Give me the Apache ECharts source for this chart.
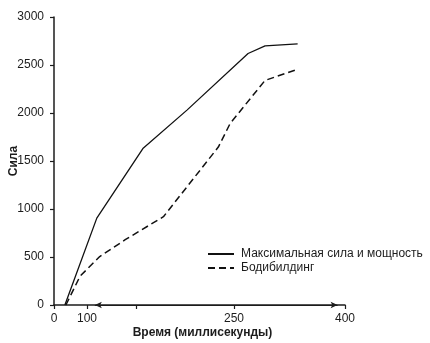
<!DOCTYPE html>
<html>
<head>
<meta charset="utf-8">
<script src="https://cdn.jsdelivr.net/npm/echarts@6/dist/echarts.min.js"></script>
<style>
  html, body { margin: 0; padding: 0; background: #ffffff; }
  #chart { width: 430px; height: 343px; }
</style>
</head>
<body>
<div id="chart"></div>
<script>
// ---- data (time in ms as read against the printed axis, force in units of the y axis) ----
const seriesNames = ['Максимальная сила и мощность', 'Бодибилдинг'];
const strengthTime  = [33, 110, 157, 202, 269, 292, 336];
const strengthForce = [0, 905, 1630, 2030, 2620, 2700, 2720];
const bodyTime  = [36, 79, 113, 139, 178, 234, 246, 292, 336];
const bodyForce = [0, 300, 505, 680, 920, 1645, 1890, 2340, 2455];
const xTickLabels = [0, 100, 250, 400];
const xMinorTicks = [150];
const timeArrow = [108, 390];
const yTicks = [0, 500, 1000, 1500, 2000, 2500, 3000];

// ---- the printed time axis is not uniform: piecewise-linear scale between its labelled ticks ----
function makeAxisScale() {
  const ms = [0, 100, 250, 400];
  const span = [0, 33, 180, 291];
  function fwd(v) {
    for (let i = 1; i < ms.length; i++) {
      if (v <= ms[i] || i === ms.length - 1) {
        return span[i - 1] + (v - ms[i - 1]) / (ms[i] - ms[i - 1]) * (span[i] - span[i - 1]);
      }
    }
  }
  function inv(u) {
    for (let i = 1; i < span.length; i++) {
      if (u <= span[i] + 1e-6 || i === span.length - 1) {
        return ms[i - 1] + (u - span[i - 1]) / (span[i] - span[i - 1]) * (ms[i] - ms[i - 1]);
      }
    }
  }
  return { fwd, inv, max: span[span.length - 1] };
}
const sc = makeAxisScale();

const FONT = '"Liberation Sans", Arial, "DejaVu Sans", sans-serif';
const INK = '#1c1c1c';

const chart = echarts.init(document.getElementById('chart'), null, { renderer: 'canvas' });
chart.setOption({
  animation: false,
  backgroundColor: '#ffffff',
  textStyle: { fontFamily: FONT, color: INK },
  grid: { left: 54, top: 17, width: 291, height: 288, containLabel: false, outerBoundsMode: 'none' },
  legend: {
    orient: 'vertical',
    left: 207,
    top: 248,
    padding: 0,
    itemWidth: 26,
    itemHeight: 10,
    itemGap: 2,
    itemStyle: { opacity: 0 },
    textStyle: { fontFamily: FONT, fontSize: 12, color: INK, padding: [0, 0, 0, 2] },
    data: seriesNames
  },
  xAxis: {
    type: 'value',
    min: 0,
    max: sc.max,
    name: 'Время (миллисекунды)',
    nameLocation: 'middle',
    nameGap: 22,
    nameMoveOverlap: false,
    nameTextStyle: { fontFamily: FONT, fontSize: 12, fontWeight: 'bold', color: INK, padding: [0, 0, 0, 6] },
    axisLine: { lineStyle: { color: INK, width: 1.5 } },
    axisTick: {
      show: true, inside: false, length: 4,
      customValues: xTickLabels.concat(xMinorTicks).map(sc.fwd),
      lineStyle: { color: INK, width: 1.2 }
    },
    axisLabel: {
      customValues: xTickLabels.map(sc.fwd),
      formatter: (u) => String(Math.round(sc.inv(u))),
      fontFamily: FONT, fontSize: 12, color: INK, margin: 8
    },
    splitLine: { show: false }
  },
  yAxis: {
    type: 'value',
    min: 0,
    max: 3000,
    interval: 500,
    name: 'Сила',
    nameLocation: 'middle',
    nameGap: 34,
    nameMoveOverlap: false,
    nameRotate: 90,
    nameTextStyle: { fontFamily: FONT, fontSize: 12, fontWeight: 'bold', color: INK },
    axisLine: { show: true, lineStyle: { color: INK, width: 1.5 } },
    axisTick: { show: true, inside: false, length: 4, lineStyle: { color: INK, width: 1.2 } },
    axisLabel: {
      fontFamily: FONT, fontSize: 12, color: INK, margin: 10,
      customValues: yTicks,
      formatter: (v) => String(v)
    },
    splitLine: { show: false }
  },
  series: [
    {
      name: seriesNames[0],
      type: 'line',
      symbol: 'none',
      clip: false,
      lineStyle: { color: '#111', width: 1.3, type: 'solid' },
      itemStyle: { color: '#111' },
      data: strengthTime.map((t, i) => [sc.fwd(t), strengthForce[i]]),
      markLine: {
        silent: true,
        symbol: ['arrow', 'arrow'],
        symbolSize: [5, 7],
        label: { show: false },
        lineStyle: { color: INK, width: 1, type: 'solid' },
        data: [[{ coord: [sc.fwd(timeArrow[0]), 0] }, { coord: [sc.fwd(timeArrow[1]), 0] }]]
      }
    },
    {
      name: seriesNames[1],
      type: 'line',
      symbol: 'none',
      clip: false,
      lineStyle: { color: '#111', width: 1.5, type: [7, 4] },
      itemStyle: { color: '#111' },
      data: bodyTime.map((t, i) => [sc.fwd(t), bodyForce[i]])
    }
  ]
});
</script>
</body>
</html>
